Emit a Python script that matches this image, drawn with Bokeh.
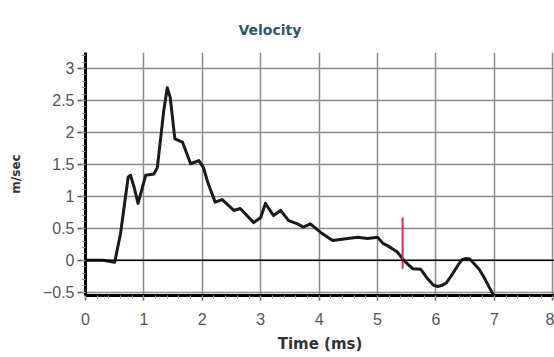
from bokeh.plotting import figure
from bokeh.models import Span, FixedTicker, Range1d, Title
from bokeh.embed import file_html
from bokeh.resources import INLINE

time_ms = [0.0, 0.3, 0.5, 0.6, 0.73, 0.77, 0.83, 0.9, 1.03, 1.17, 1.23, 1.34, 1.40, 1.45,
           1.53, 1.66, 1.8, 1.94, 2.02, 2.1, 2.22, 2.34, 2.54, 2.65, 2.88, 3.0, 3.08, 3.22,
           3.34, 3.48, 3.63, 3.73, 3.85, 4.02, 4.23, 4.49, 4.66, 4.83, 5.0, 5.1, 5.17, 5.34,
           5.45, 5.6, 5.74, 5.85, 5.96, 6.03, 6.11, 6.18, 6.25, 6.39, 6.45, 6.51, 6.58, 6.65,
           6.74, 6.82, 6.9, 6.99]
velocity = [0.0, 0.0, -0.03, 0.42, 1.3, 1.33, 1.15, 0.89, 1.33, 1.35, 1.45, 2.34, 2.7, 2.55,
            1.9, 1.85, 1.51, 1.56, 1.45, 1.2, 0.91, 0.95, 0.78, 0.81, 0.59, 0.67, 0.89, 0.7,
            0.78, 0.62, 0.57, 0.52, 0.57, 0.44, 0.31, 0.34, 0.36, 0.34, 0.36, 0.26, 0.23, 0.13,
            0.0, -0.13, -0.14, -0.28, -0.39, -0.41, -0.39, -0.35, -0.26, -0.06, 0.01, 0.03, 0.02, -0.05,
            -0.14, -0.26, -0.4, -0.55]
marker_time = [5.43, 5.43]
marker_vel = [0.67, -0.13]
x_ticks = [0, 1, 2, 3, 4, 5, 6, 7, 8]
y_ticks = [-0.5, 0, 0.5, 1, 1.5, 2, 2.5, 3]

p = figure(width=554, height=357, output_backend="svg", toolbar_location=None,
           x_range=Range1d(0, 8.03), y_range=Range1d(-0.55, 3.25),
           min_border_left=85, min_border_right=0, min_border_top=52, min_border_bottom=62)
p.outline_line_color = None
p.background_fill_color = "white"

t = Title(text="Velocity", align="left", offset=153, text_font="DejaVu Sans",
          text_font_size="14px", text_font_style="bold", text_color="#2f5866", standoff=29)
p.add_layout(t, "above")

p.xaxis.ticker = FixedTicker(ticks=x_ticks, minor_ticks=[i * 0.2 for i in range(41)])
p.yaxis.ticker = FixedTicker(ticks=y_ticks, minor_ticks=[-0.5 + i * 0.1 for i in range(38)])

for ax in (p.xaxis[0], p.yaxis[0]):
    ax.axis_line_width = 3
    ax.axis_line_color = "black"
    ax.major_tick_line_color = "#555555"
    ax.major_tick_line_width = 1.5
    ax.minor_tick_line_color = "#999999"
    ax.major_label_text_font = "Liberation Sans"
    ax.major_label_text_font_size = "16px"
    ax.major_label_text_color = "#555555"
    ax.axis_label_text_font = "DejaVu Sans"
    ax.axis_label_text_font_style = "bold"
    ax.axis_label_text_color = "#333333"

p.xaxis.major_tick_in = 0
p.xaxis.major_tick_out = 5
p.xaxis.minor_tick_out = 3
p.xaxis.minor_tick_in = 0
p.xaxis.major_label_standoff = 12
p.xaxis.axis_label = "Time (ms)"
p.xaxis.axis_label_text_font_size = "15px"
p.xaxis.axis_label_standoff = 7

p.yaxis.major_tick_in = 0
p.yaxis.major_tick_out = 8
p.yaxis.minor_tick_out = 4
p.yaxis.minor_tick_in = 0
p.yaxis.major_label_standoff = 3
p.yaxis.axis_label = "m/sec"
p.yaxis.axis_label_text_font_size = "12px"
p.yaxis.axis_label_standoff = 17

p.xgrid.ticker = FixedTicker(ticks=x_ticks)
p.ygrid.ticker = FixedTicker(ticks=y_ticks)
p.grid.grid_line_color = "#8a8a8a"
p.grid.grid_line_width = 1.5

p.add_layout(Span(location=0, dimension="width", line_color="black", line_width=1.5))

p.line(time_ms, velocity, line_color="#1a1a1a", line_width=3, line_join="round")
p.line(marker_time, marker_vel, line_color="#d0305a", line_width=2)

open("out.html", "w").write(file_html(p, INLINE))
